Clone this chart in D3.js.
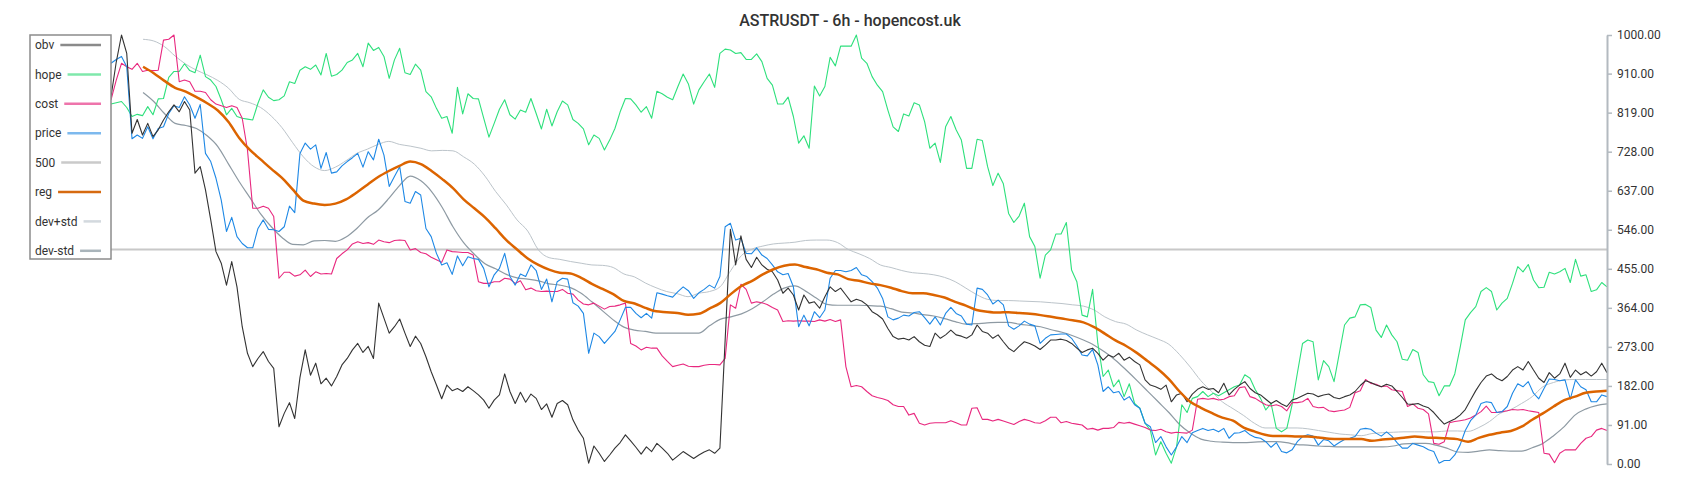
<!DOCTYPE html>
<html>
<head>
<meta charset="utf-8">
<script src="https://cdn.jsdelivr.net/npm/d3@7"></script>
<style>
    body { margin: 0; background: #fff; }
    svg text { font-family: Roboto, "Noto Sans", sans-serif; }
</style>
</head>
<body>
<div id="chart-container"></div>
<script>
// raw series, one value per 6h candle
var obv = [856, 937, 1000, 957, 771, 803, 767, 794, 763, 779, 802, 821, 837, 821, 845, 825, 678, 693, 639, 569, 495, 468, 417, 472, 413, 320, 258, 227, 246, 262, 239, 223, 87, 118, 143, 106, 202,
    266, 207, 235, 187, 200, 182, 204, 231, 246, 266, 281, 260, 274, 246, 375, 340, 305, 320, 338, 305, 274, 298, 281, 250, 215, 184, 152, 184, 171, 176, 169, 180, 171, 161, 149, 130, 149, 161,
    210, 169, 141, 167, 144, 163, 153, 127, 140, 109, 141, 148, 138, 103, 79, 60, 2, 42, 25, 6, 21, 37, 50, 68, 54, 39, 23, 40, 29, 48, 37, 25, 9, 19, 29, 21, 13, 21,
    28, 33, 25, 37, 289, 547, 464, 532, 477, 458, 482, 464, 454, 448, 429, 398, 410, 394, 359, 394, 375, 378, 363, 390, 413, 402, 410, 394, 378, 384, 380, 371, 355, 348, 338, 316, 297, 291,
    293, 289, 297, 285, 277, 274, 305, 293, 301, 312, 301, 298, 293, 301, 324, 309, 305, 293, 301, 285, 270, 262, 274, 285, 281, 275, 267, 277, 289, 289, 291, 288, 281, 270, 260, 266, 270, 258,
    242, 254, 249, 258, 242, 249, 239, 231, 196, 184, 180, 174, 184, 145, 161, 165, 145, 163, 174, 180, 174, 176, 166, 188, 161, 174, 184, 192, 176, 166, 161, 151, 141, 148, 140, 134, 149, 153,
    159, 165, 163, 157, 161, 163, 155, 152, 157, 161, 169, 183, 194, 190, 184, 180, 186, 182, 169, 155, 140, 139, 141, 135, 131, 120, 106, 93, 99, 105, 114, 127, 149, 171, 190, 205, 210, 200,
    194, 204, 219, 227, 219, 239, 219, 200, 190, 213, 200, 210, 235, 202, 219, 208, 215, 205, 215, 235, 213];

var hope = [839, 842, 845, 831, 810, 815, 812, 833, 814, 851, 852, 901, 915, 915, 933, 917, 912, 953, 903, 895, 880, 849, 814, 829, 810, 806, 804, 802, 841, 872, 855, 847, 849, 858, 891, 887, 918,
    926, 920, 930, 907, 957, 904, 908, 918, 936, 942, 957, 926, 981, 964, 971, 950, 899, 942, 969, 912, 908, 932, 918, 868, 856, 829, 806, 810, 771, 878, 816, 863, 852, 851, 806, 762, 794, 827,
    849, 814, 804, 825, 820, 852, 817, 781, 827, 788, 821, 846, 837, 803, 794, 781, 744, 767, 759, 732, 755, 782, 821, 852, 851, 837, 820, 833, 806, 869, 863, 855, 849, 880, 909, 886, 839, 872,
    891, 909, 878, 957, 967, 965, 957, 959, 943, 943, 956, 938, 899, 883, 839, 839, 855, 810, 748, 765, 736, 881, 858, 880, 948, 928, 974, 974, 974, 1000, 946, 934, 903, 883, 868, 825, 786, 775,
    816, 811, 842, 837, 798, 736, 748, 703, 786, 810, 779, 755, 689, 689, 757, 754, 693, 649, 678, 653, 584, 563, 578, 608, 530, 507, 433, 487, 499, 536, 536, 563, 452, 425, 347, 343, 407, 281,
    204, 219, 180, 196, 157, 187, 141, 130, 95, 79, 21, 52, 25, 2, 40, 138, 120, 153, 157, 169, 157, 165, 159, 166, 173, 180, 184, 208, 200, 173, 153, 126, 141, 83, 75, 83, 138, 211,
    281, 289, 285, 196, 241, 227, 192, 258, 324, 340, 343, 371, 372, 365, 312, 295, 324, 301, 285, 244, 242, 267, 260, 208, 192, 190, 159, 182, 182, 210, 270, 336, 353, 367, 402, 411, 402, 359,
    375, 386, 421, 460, 448, 465, 429, 411, 412, 447, 443, 448, 456, 423, 477, 438, 441, 402, 406, 423, 413];

var cost = [849, 895, 934, 926, 920, 934, 915, 918, 917, 918, 988, 990, 1000, 891, 895, 891, 869, 869, 866, 849, 839, 835, 831, 835, 831, 806, 732, 596, 596, 601, 596, 577, 433, 447, 447, 438, 441,
    452, 437, 448, 443, 444, 443, 479, 490, 499, 513, 518, 514, 516, 512, 522, 518, 516, 521, 522, 521, 499, 502, 493, 490, 482, 476, 470, 499, 495, 494, 493, 493, 487, 425, 421, 421, 425, 425,
    433, 431, 421, 427, 406, 410, 404, 402, 403, 402, 402, 407, 398, 396, 382, 373, 371, 375, 368, 361, 367, 368, 371, 375, 281, 275, 266, 272, 270, 270, 252, 239, 227, 230, 233, 228, 227, 227,
    230, 232, 232, 231, 246, 371, 363, 419, 407, 375, 378, 376, 372, 365, 359, 332, 334, 333, 334, 333, 333, 332, 336, 333, 337, 332, 336, 227, 180, 183, 180, 169, 159, 155, 152, 148, 138, 134,
    134, 114, 118, 95, 91, 95, 96, 96, 96, 101, 96, 91, 91, 130, 131, 104, 104, 100, 104, 100, 96, 92, 99, 104, 101, 96, 95, 101, 109, 109, 96, 99, 95, 93, 91, 81, 83, 79,
    83, 83, 85, 97, 95, 97, 93, 89, 85, 79, 78, 81, 75, 72, 74, 73, 72, 79, 151, 153, 151, 153, 149, 151, 157, 159, 178, 180, 157, 153, 145, 138, 135, 138, 134, 124, 143, 143,
    145, 153, 134, 131, 132, 124, 122, 124, 126, 132, 166, 171, 197, 188, 186, 180, 182, 173, 171, 169, 134, 140, 130, 127, 117, 48, 46, 52, 96, 99, 101, 103, 107, 114, 122, 135, 120, 120,
    122, 124, 127, 126, 127, 124, 122, 120, 25, 23, 3, 25, 33, 33, 33, 48, 60, 64, 79, 83, 78];

var price = [934, 943, 950, 926, 758, 767, 759, 786, 758, 782, 786, 817, 835, 831, 856, 837, 806, 838, 724, 705, 666, 615, 542, 575, 530, 514, 504, 504, 549, 569, 547, 546, 542, 553, 601, 586, 724,
    748, 734, 744, 689, 726, 678, 681, 695, 705, 714, 724, 692, 728, 709, 757, 720, 647, 670, 693, 612, 608, 635, 627, 549, 530, 491, 464, 469, 442, 485, 462, 483, 479, 477, 456, 413, 441, 456,
    491, 437, 417, 443, 437, 464, 451, 407, 431, 378, 425, 433, 431, 376, 368, 351, 258, 305, 297, 281, 295, 309, 336, 365, 365, 351, 341, 351, 340, 399, 396, 392, 389, 402, 413, 404, 386, 399,
    407, 417, 410, 437, 553, 561, 522, 526, 491, 490, 504, 487, 479, 464, 448, 441, 444, 413, 320, 347, 322, 355, 341, 359, 433, 451, 451, 448, 451, 458, 441, 437, 425, 410, 386, 343, 336, 340,
    347, 345, 353, 355, 341, 326, 343, 324, 351, 365, 351, 345, 326, 324, 410, 407, 394, 373, 382, 371, 322, 314, 322, 333, 326, 322, 281, 293, 301, 302, 303, 303, 293, 275, 254, 252, 267, 231,
    169, 180, 166, 169, 149, 157, 138, 130, 95, 87, 50, 64, 40, 21, 40, 64, 50, 73, 78, 83, 78, 81, 75, 83, 60, 72, 73, 78, 68, 62, 60, 52, 39, 50, 29, 26, 33, 52,
    64, 68, 65, 44, 57, 54, 42, 50, 57, 60, 64, 81, 83, 81, 72, 65, 75, 65, 50, 37, 37, 48, 44, 40, 33, 29, 2, 8, 8, 21, 44, 78, 101, 114, 141, 145, 143, 120,
    122, 134, 165, 187, 180, 192, 165, 152, 176, 198, 197, 194, 196, 151, 196, 180, 173, 145, 145, 161, 157];

// smoothed series, read every second candle
var reg = [null, null, null, 926, 911, 893, 877, 868, 855, 841, 824, 797, 760, 732, 710, 688, 667, 640,
    614, 607, 604, 607, 617, 633, 651, 669, 683, 695, 705, 699, 683, 664, 643, 617, 596, 575, 549,
    522, 500, 479, 464, 453, 446, 444, 434, 420, 408, 396, 380, 374, 364, 356, 354, 352, 348, 350,
    362, 375, 396, 415, 427, 442, 454, 462, 465, 459, 454, 446, 442, 431, 427, 421, 417, 411,
    403, 398, 398, 394, 388, 378, 369, 359, 355, 353, 354, 352, 350, 347, 343, 339, 335, 330, 319,
    304, 288, 275, 259, 240, 221, 198, 169, 145, 131, 119, 108, 101, 85, 76, 68, 65, 65, 64,
    64, 62, 59, 58, 58, 58, 54, 57, 59, 61, 64, 62, 61, 60, 58, 52, 61, 68, 73,
    77, 87, 103, 118, 134, 149, 157, 166, 169, 171];

var devPlus = [null, null, null, 990, 986, 973, 951, 932, 918, 907, 894, 876, 850, 842, 831, 811, 784, 749,
    716, 693, 684, 692, 707, 724, 734, 745, 752, 745, 741, 736, 730, 731, 730, 716, 699, 671, 635,
    604, 569, 543, 499, 481, 477, 472, 468, 464, 463, 458, 443, 436, 422, 411, 402, 397, 390, 398,
    402, 413, 451, 486, 501, 508, 513, 515, 517, 521, 522, 522, 516, 500, 490, 479, 464, 458,
    451, 446, 444, 441, 435, 425, 410, 395, 384, 381, 381, 380, 379, 378, 376, 374, 371, 368, 359,
    343, 332, 326, 312, 301, 291, 279, 255, 226, 194, 169, 145, 129, 113, 95, 84, 84, 84, 84,
    82, 78, 74, 70, 68, 66, 71, 73, 74, 75, 75, 75, 75, 77, 77, 76, 85, 99, 118,
    127, 141, 157, 180, 190, 196, 197, 197, 197, 197];

var devMinus = [null, null, null, 866, 845, 817, 794, 789, 782, 765, 740, 699, 658, 621, 583, 553, 528, 512,
    511, 520, 521, 519, 529, 549, 574, 592, 619, 649, 671, 660, 635, 598, 553, 516, 489, 467, 455,
    442, 434, 431, 427, 420, 417, 411, 398, 378, 357, 336, 319, 312, 309, 305, 305, 305, 305, 305,
    322, 337, 343, 350, 362, 378, 396, 410, 415, 403, 387, 372, 370, 370, 370, 369, 368, 362,
    354, 352, 348, 345, 339, 332, 326, 327, 329, 330, 330, 326, 323, 320, 313, 307, 299, 289, 277,
    261, 242, 219, 195, 170, 145, 120, 92, 72, 58, 53, 51, 50, 50, 51, 52, 52, 50, 45,
    44, 42, 41, 40, 40, 40, 40, 40, 42, 47, 48, 48, 44, 37, 28, 27, 30, 33, 31,
    30, 30, 38, 48, 66, 87, 114, 128, 136, 140];

var level500 = 500;
var yTicks = [0, 91, 182, 273, 364, 455, 546, 637, 728, 819, 910, 1000];
var legendNames = ["obv", "hope", "cost", "price", "500", "reg", "dev+std", "dev-std"];
var title = "ASTRUSDT - 6h - hopencost.uk";

var width = 1700, height = 500;
var plotLeft = 111, plotRight = 1607, plotTop = 35, plotBottom = 464;

var svg = d3.select("#chart-container")
    .append("svg")
    .attr("width", width)
    .attr("height", height);

var x = d3.scaleLinear()
    .domain([0, obv.length - 1])
    .range([plotLeft, plotRight]);

// smoothed lines were sampled at half the rate
var xs = d3.scaleLinear()
    .domain([0, reg.length - 1])
    .range([plotLeft, plotRight]);

var y = d3.scaleLinear()
    .domain([0, 1000])
    .range([plotBottom, plotTop]);

function makeLine(sx) {
    return d3.line()
        .defined(function (d) { return d != null; })
        .x(function (d, i) { return sx(i); })
        .y(function (d) { return y(d); });
}
var line = makeLine(x);
var lineSmooth = makeLine(xs).curve(d3.curveMonotoneX);

// the 500 level
svg.append("line")
    .attr("x1", x(0))
    .attr("x2", x(obv.length - 1))
    .attr("y1", y(level500))
    .attr("y2", y(level500))
    .style("stroke", "#c8c8c8")
    .style("stroke-width", 2);

var series = [
    {data: devPlus, color: "#bcc4ca", w: 1, gen: lineSmooth},
    {data: devMinus, color: "#8e9aa3", w: 1.2, gen: lineSmooth},
    {data: hope, color: "#2ee07c", w: 1.1, gen: line},
    {data: cost, color: "#e8287f", w: 1.1, gen: line},
    {data: price, color: "#1e88e5", w: 1.1, gen: line},
    {data: obv, color: "#333", w: 1.1, gen: line},
    {data: reg, color: "#dc6400", w: 2.5, gen: lineSmooth}
];

series.forEach(function (s) {
    svg.append("path")
        .datum(s.data)
        .attr("d", s.gen)
        .style("fill", "none")
        .style("stroke", s.color)
        .style("stroke-width", s.w)
        .style("stroke-linejoin", "round");
});

// right axis
var yAxis = d3.axisRight(y)
    .tickValues(yTicks)
    .tickFormat(d3.format(".2f"))
    .tickSize(5)
    .tickSizeOuter(0)
    .tickPadding(5);

var ax = svg.append("g")
    .attr("class", "y-axis")
    .attr("transform", "translate(" + plotRight + ",0)")
    .call(yAxis);
ax.select(".domain").style("stroke", "#b3bac0").style("stroke-width", 2);
ax.selectAll(".tick line").style("stroke", "#b3bac0").style("stroke-width", 1.5);
ax.selectAll(".tick text")
    .style("font-size", "12px")
    .style("fill", "#333");

// title
svg.append("text")
    .attr("x", 850)
    .attr("y", 26)
    .attr("text-anchor", "middle")
    .style("font-size", "16px")
    .style("font-weight", 500)
    .style("fill", "#333")
    .text(title);

// legend
var legendColors = ["#8a8a8a", "#7fe8ab", "#ee74ab", "#7db9ee", "#cacaca", "#d66a10", "#d3d9de", "#a9b4ba"];
var legend = svg.append("g");
legend.append("rect")
    .attr("x", 30)
    .attr("y", 35)
    .attr("width", 81)
    .attr("height", 224)
    .style("fill", "#fff")
    .style("stroke", "#8c8c8c")
    .style("stroke-width", 1.5);

legendNames.forEach(function (name, i) {
    var cy = 45 + i * 29.4;
    var t = legend.append("text")
        .attr("x", 35)
        .attr("y", cy)
        .attr("dy", "0.35em")
        .style("font-size", "12px")
        .style("fill", "#333")
        .text(name);
    var tw = t.node().getComputedTextLength();
    legend.append("line")
        .attr("x1", 35 + tw + 6)
        .attr("x2", 101)
        .attr("y1", cy)
        .attr("y2", cy)
        .style("stroke", legendColors[i])
        .style("stroke-width", 2.5);
});
</script>
</body>
</html>
